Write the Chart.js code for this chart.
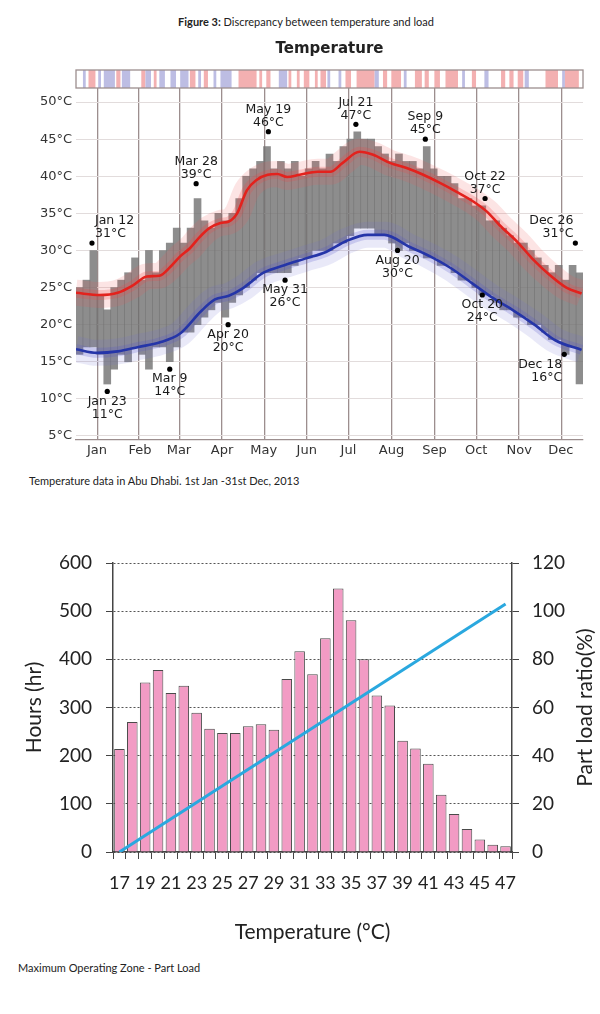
<!DOCTYPE html>
<html>
<head>
<meta charset="utf-8">
<script src="https://cdn.jsdelivr.net/npm/chart.js@4.4.1/dist/chart.umd.min.js"></script>
<style>
    body { margin: 0; background: #fff; }
    #page { position: relative; width: 600px; height: 1014px; overflow: hidden; font-family: Lato, sans-serif; color: #222; }
    .cap { position: absolute; font-size: 11px; line-height: 14px; white-space: nowrap; }
    #fig { top: 15px; left: 0; width: 612px; text-align: center; }
    #cap1 { top: 474px; left: 29px; }
    #cap2 { top: 961px; left: 18px; }
    #tempChart { position: absolute; left: 0; top: 0; }
    #loadChart { position: absolute; left: 0; top: 520px; }
</style>
</head>
<body>
<div id="page">
    <div class="cap" id="fig"><b>Figure 3:</b> Discrepancy between temperature and load</div>
    <canvas id="tempChart" width="600" height="470"></canvas>
    <div class="cap" id="cap1">Temperature data in Abu Dhabi. 1st Jan -31st Dec, 2013</div>
    <canvas id="loadChart" width="600" height="440"></canvas>
    <div class="cap" id="cap2">Maximum Operating Zone - Part Load</div>
</div>
<script>
// ---------- Temperature chart (day of year 0..365) ----------
const monthNames = ["Jan", "Feb", "Mar", "Apr", "May", "Jun", "Jul", "Aug", "Sep", "Oct", "Nov", "Dec"];
const monthStarts = [0, 31, 59, 90, 120, 151, 181, 212, 243, 273, 304, 334, 365];
const tempTicks = [5, 10, 15, 20, 25, 30, 35, 40, 45, 50];

// daily high / low, read in 5-day blocks (block start day)
const blockDays = [0, 5, 10, 15, 20, 25, 30, 35, 40, 45, 50, 55, 60, 65, 70, 75, 80, 85, 90, 95,
    100, 105, 110, 115, 120, 125, 130, 135, 140, 145, 150, 155, 160, 165, 170, 175, 180, 185, 190, 195,
    200, 205, 210, 215, 220, 225, 230, 235, 240, 245, 250, 255, 260, 265, 270, 275, 280, 285, 290, 295,
    300, 305, 310, 315, 320, 325, 330, 335, 340, 345, 350, 355, 360];
const dailyHigh = [25, 26, 30, 24, 22, 25, 26, 27, 29, 26, 30, 27, 30, 31, 33, 31, 33, 37, 34, 33,
    35, 34, 35, 37, 40, 41, 42, 44, 41, 42, 41, 42, 40, 41, 42, 41, 43, 42, 44, 45,
    46, 45, 45, 44, 43, 42, 43, 42, 42, 41, 44, 41, 40, 40, 39, 37, 37, 36, 36, 34,
    34, 33, 32, 31, 31, 30, 29, 28, 27, 28, 26, 28, 27];
const dailyLow = [16, 17, 17, 16, 12, 14, 16, 15, 17, 16, 14, 17, 17, 15, 17, 19, 19, 20, 21, 22,
    23, 21, 23, 24, 25, 26, 27, 27, 27, 27, 27, 28, 29, 29, 30, 30, 30, 31, 31, 32,
    33, 33, 33, 32, 32, 31, 30, 31, 30, 30, 29, 29, 28, 28, 27, 26, 26, 25, 24, 24,
    23, 22, 22, 21, 21, 20, 20, 19, 18, 18, 16, 17, 12];

// smoothed average high / low
const avgHighDays = [0, 17, 30, 41, 51, 60, 68, 75, 82, 89, 96, 104, 110, 116, 123, 130, 138, 145, 152, 161,
    174, 183, 192, 204, 214, 226, 238, 250, 262, 274, 286, 296, 305, 318, 329, 341, 353, 364];
const avgHigh = [24.3, 24.0, 24.3, 25.3, 26.5, 26.6, 27.8, 29.2, 30.3, 31.8, 33.0, 33.7, 33.9, 35.0, 38.1, 39.5, 40.2, 40.3, 39.9, 40.2,
    40.6, 40.6, 41.8, 43.3, 42.9, 41.8, 41.1, 40.2, 39.1, 37.9, 36.6, 35.2, 33.4, 31.1, 28.8, 26.7, 25.0, 24.2];
const avgLowDays = [0, 15, 30, 45, 60, 75, 90, 100, 110, 120, 135, 150, 165, 180, 195, 210, 222, 240, 255, 270,
    285, 300, 315, 330, 345, 364];
const avgLow = [16.7, 16.2, 16.4, 17.0, 17.6, 18.8, 21.8, 23.4, 23.9, 24.9, 27.0, 28.0, 28.9, 29.8, 31.3, 32.1, 32.1, 30.5, 29.2, 27.6,
    25.6, 23.6, 21.9, 20.0, 17.9, 16.6];

// labelled extremes
const extremeNames = ["Jan 12", "Mar 28", "May 19", "Jul 21", "Sep 9", "Oct 22", "Dec 26",
    "Jan 23", "Mar 9", "Apr 20", "May 31", "Aug 20", "Oct 20", "Dec 18"];
const extremeDays = [11, 86, 138, 201, 251, 294, 359, 22, 67, 109, 150, 231, 292, 351];
const extremeTemps = [31, 39, 46, 47, 45, 37, 31, 11, 14, 20, 26, 30, 24, 16];
const extremeKind = ["max", "max", "max", "max", "max", "max", "max", "min", "min", "min", "min", "min", "min", "min"];

// top colour strip: w = warm (red), c = cool (blue)
const stripStart = [5, 9, 16, 20, 29, 33, 47, 50, 56, 60, 68, 75, 82, 88, 92, 99, 104, 117, 132, 137,
    146, 153, 159, 164, 172, 176, 181, 189, 194, 202, 215, 221, 227, 236, 244, 251, 258, 266, 278, 285,
    294, 306, 312, 318, 323, 338, 350, 352];
const stripEnd = [7, 14, 18, 28, 32, 39, 50, 54, 58, 64, 72, 81, 86, 90, 95, 101, 112, 130, 134, 140,
    152, 155, 161, 168, 174, 180, 183, 191, 198, 215, 218, 224, 234, 238, 249, 254, 262, 275, 280, 288,
    297, 309, 315, 322, 326, 347, 352, 362];
const stripKind = ["c", "w", "c", "c", "w", "c", "w", "c", "w", "c", "c", "c", "w", "c", "w", "c", "c", "w", "w", "w",
    "c", "w", "w", "w", "w", "w", "c", "c", "w", "w", "c", "w", "w", "c", "w", "w", "w", "w", "c", "w",
    "c", "w", "w", "w", "c", "w", "c", "w"];

// ---------- Part load chart ----------
const loadTemps = [17, 18, 19, 20, 21, 22, 23, 24, 25, 26, 27, 28, 29, 30, 31, 32, 33, 34, 35, 36,
    37, 38, 39, 40, 41, 42, 43, 44, 45, 46, 47];
const loadHours = [214, 270, 352, 378, 330, 345, 289, 256, 247, 247, 261, 265, 254, 359, 417, 369, 444, 547, 481, 400,
    325, 304, 231, 215, 183, 119, 79, 48, 26, 15, 12];
const partLoadTemps = [17, 47];
const partLoadPct = [0, 103];
const hoursTicks = [0, 100, 200, 300, 400, 500, 600];
const pctTicks = [0, 20, 40, 60, 80, 100, 120];

// draws the warm / cool strip above the plot
const stripPlugin = {
    id: "strip",
    beforeDraw(chart) {
        const { ctx, chartArea: a, scales: { x } } = chart;
        const top = a.top - 18;
        ctx.save();
        stripStart.forEach((s, i) => {
            const x0 = x.getPixelForValue(s);
            const x1 = x.getPixelForValue(stripEnd[i]);
            ctx.fillStyle = stripKind[i] === "w" ? "#f3b0b1" : "#bdbde3";
            ctx.fillRect(x0, top, x1 - x0, 18);
        });
        ctx.strokeStyle = "#9c8e8e";
        ctx.lineWidth = 1.3;
        ctx.strokeRect(a.left, top, a.right - a.left, 18);
        ctx.restore();
    },
};

// text next to the black dots
const extremeLabelPlugin = {
    id: "extremeLabels",
    afterDatasetsDraw(chart) {
        const { ctx, chartArea: a, scales: { x, y } } = chart;
        ctx.save();
        ctx.font = '12.5px "DejaVu Sans"';
        ctx.fillStyle = "#1a1a1a";
        ctx.textBaseline = "middle";
        extremeDays.forEach((d, i) => {
            const px = x.getPixelForValue(d + 0.5);
            const py = y.getPixelForValue(extremeTemps[i]);
            const lines = [extremeNames[i], extremeTemps[i] + "°C"];
            const w = Math.max(...lines.map(t => ctx.measureText(t).width));
            let tx = px;
            ctx.textAlign = "center";
            if (px - w / 2 < a.left) { ctx.textAlign = "left"; tx = px + 3; }
            if (px + w / 2 > a.right) { ctx.textAlign = "right"; tx = px - 2; }
            const ys = extremeKind[i] === "max" ? [py - 22, py - 9] : [py + 10, py + 23];
            lines.forEach((t, k) => ctx.fillText(t, tx, ys[k]));
        });
        ctx.restore();
    },
};

const tickFont = { family: "DejaVu Sans", size: 13 };

new Chart(document.getElementById("tempChart"), {
    type: "line",
    data: {
        datasets: [
            {
                type: "scatter",
                data: extremeDays.map((d, i) => ({ x: d + 0.5, y: extremeTemps[i] })),
                pointRadius: 2.6,
                pointBackgroundColor: "#000",
                pointBorderWidth: 0,
                showLine: false,
                order: 0,
            },
            {
                data: avgHighDays.map((d, i) => ({ x: d, y: avgHigh[i] })),
                borderColor: "#e3221d",
                borderWidth: 2.6,
                cubicInterpolationMode: "monotone",
                pointRadius: 0,
                order: 1,
            },
            {
                data: avgLowDays.map((d, i) => ({ x: d, y: avgLow[i] })),
                borderColor: "#2535a8",
                borderWidth: 2.6,
                cubicInterpolationMode: "monotone",
                pointRadius: 0,
                order: 1,
            },
            {
                data: avgHighDays.map((d, i) => ({ x: d, y: avgHigh[i] })),
                borderColor: "rgba(238, 70, 70, 0.22)",
                borderWidth: 10,
                cubicInterpolationMode: "monotone",
                pointRadius: 0,
                order: 2,
            },
            {
                data: avgHighDays.map((d, i) => ({ x: d, y: avgHigh[i] })),
                borderColor: "rgba(238, 90, 90, 0.16)",
                borderWidth: 26,
                cubicInterpolationMode: "monotone",
                pointRadius: 0,
                order: 2,
            },
            {
                data: avgLowDays.map((d, i) => ({ x: d, y: avgLow[i] })),
                borderColor: "rgba(80, 80, 200, 0.22)",
                borderWidth: 10,
                cubicInterpolationMode: "monotone",
                pointRadius: 0,
                order: 2,
            },
            {
                data: avgLowDays.map((d, i) => ({ x: d, y: avgLow[i] })),
                borderColor: "rgba(110, 110, 210, 0.15)",
                borderWidth: 26,
                cubicInterpolationMode: "monotone",
                pointRadius: 0,
                order: 2,
            },
            {
                type: "bar",
                data: blockDays.map((d, i) => ({ x: d + 2.5, y: [dailyLow[i], dailyHigh[i]] })),
                backgroundColor: "rgba(112, 112, 112, 0.8)",
                borderWidth: 0,
                barThickness: 7,
                order: 3,
            },
        ],
    },
    options: {
        responsive: false,
        animation: false,
        devicePixelRatio: 1,
        layout: { padding: { top: 0, right: 17, bottom: 0, left: 0 } },
        plugins: {
            legend: { display: false },
            tooltip: { enabled: false },
            title: {
                display: true,
                text: "Temperature",
                fullSize: false,
                color: "#222",
                font: { family: "DejaVu Sans", size: 15, weight: "bold" },
                padding: { top: 40, bottom: 30 },
            },
        },
        scales: {
            x: {
                type: "linear",
                min: 0,
                max: 365,
                offset: false,
                afterBuildTicks: s => { s.ticks = monthStarts.map(v => ({ value: v })); },
                afterFit: s => { s.height = 30; },
                ticks: {
                    autoSkip: false,
                    maxRotation: 0,
                    labelOffset: 21,
                    padding: 3,
                    color: "#333",
                    font: tickFont,
                    callback: (v, i) => monthNames[i] || "",
                },
                grid: { color: "#9c8e8e", lineWidth: 1.3, drawTicks: false },
                border: { color: "#9c8e8e", width: 1.3 },
            },
            y: {
                min: 4.46,
                max: 51.89,
                afterBuildTicks: s => { s.ticks = tempTicks.map(v => ({ value: v })); },
                afterFit: s => { s.width = 76; },
                ticks: {
                    padding: 4,
                    color: "#333",
                    font: tickFont,
                    callback: v => v + "°C",
                },
                grid: { color: "#e2dcdc", drawTicks: false },
                border: { display: false },
            },
        },
    },
    plugins: [stripPlugin, extremeLabelPlugin],
});

// right axis title reads bottom-to-top like the left one
const rightTitlePlugin = {
    id: "rightTitle",
    afterDraw(chart) {
        const { ctx, chartArea: a } = chart;
        ctx.save();
        ctx.translate(585, (a.top + a.bottom) / 2);
        ctx.rotate(-Math.PI / 2);
        ctx.font = "21px Lato";
        ctx.fillStyle = "#222";
        ctx.textAlign = "center";
        ctx.textBaseline = "middle";
        ctx.fillText("Part load ratio(%)", 0, 0);
        ctx.restore();
    },
};

new Chart(document.getElementById("loadChart"), {
    type: "bar",
    data: {
        labels: loadTemps.map(String),
        datasets: [
            {
                type: "line",
                data: partLoadTemps.map((t, i) => ({ x: String(t), y: partLoadPct[i] })),
                yAxisID: "y1",
                borderColor: "#2aa8df",
                borderWidth: 3,
                pointRadius: 0,
                order: 0,
            },
            {
                data: loadHours,
                yAxisID: "y",
                backgroundColor: "#f29bc4",
                borderColor: "#4a4a4a",
                borderWidth: 1,
                barPercentage: 0.82,
                categoryPercentage: 1,
                order: 1,
            },
        ],
    },
    options: {
        responsive: false,
        animation: false,
        devicePixelRatio: 1,
        layout: { padding: { top: 43, right: 0, bottom: 0, left: 0 } },
        plugins: { legend: { display: false }, tooltip: { enabled: false } },
        scales: {
            x: {
                afterFit: s => { s.height = 108; },
                grid: { display: true, drawOnChartArea: false, tickLength: 7, color: "#444", offset: true },
                border: { color: "#444", width: 1.5 },
                ticks: {
                    autoSkip: false,
                    maxRotation: 0,
                    padding: 13,
                    color: "#222",
                    font: { family: "Lato", size: 18 },
                    callback: (v, i) => (i % 2 === 0 ? loadTemps[i] : ""),
                },
                title: {
                    display: true,
                    text: "Temperature (°C)",
                    color: "#222",
                    font: { family: "Lato", size: 21 },
                    padding: { top: 0, bottom: 15 },
                },
            },
            y: {
                position: "left",
                min: 0,
                max: 600,
                afterBuildTicks: s => { s.ticks = hoursTicks.map(v => ({ value: v })); },
                afterFit: s => { s.width = 113; },
                ticks: { padding: 14, color: "#222", font: { family: "Lato", size: 19 } },
                grid: { color: "#555", tickLength: 7, tickColor: "#444" },
                border: { color: "#444", width: 1.5, dash: [2, 2] },
                title: {
                    display: true,
                    text: "Hours (hr)",
                    color: "#222",
                    font: { family: "Lato", size: 21 },
                    padding: { top: 22, bottom: 0 },
                },
            },
            y1: {
                position: "right",
                min: 0,
                max: 120,
                afterBuildTicks: s => { s.ticks = pctTicks.map(v => ({ value: v })); },
                afterFit: s => { s.width = 88; },
                ticks: { padding: 13, color: "#222", font: { family: "Lato", size: 19 } },
                grid: { drawOnChartArea: false, tickLength: 7, color: "#444" },
                border: { color: "#444", width: 1.5 },
            },
        },
    },
    plugins: [rightTitlePlugin],
});
</script>
</body>
</html>
